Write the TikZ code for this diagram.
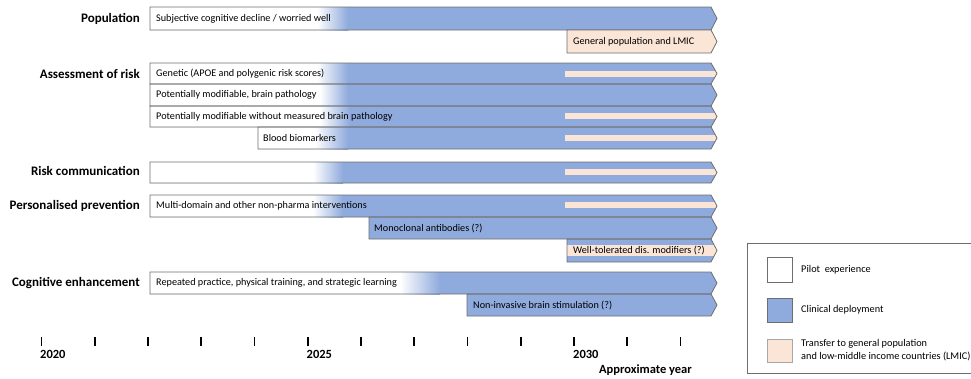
\documentclass[tikz,border=0pt]{standalone}
\usepackage{fontspec}
\setmainfont{Carlito}
\definecolor{cblue}{HTML}{8FAADC}
\definecolor{cpeach}{HTML}{FBE5D6}
\definecolor{cedge}{HTML}{6E6E6E}
\newcommand\barpath[3]{(#1,#2) -- (711,#2) -- (717,{(#2+#3)/2}) -- (711,#3) -- (#1,#3) -- cycle}
\newcommand\gradbar[5]{%
  \fill[cblue] \barpath{#1}{#2}{#3};
  \fill[white] (#1,#2) rectangle (#4,#3);
  \shade[left color=white,right color=cblue] (#4,#2) rectangle (#5,#3);
}
\newcommand\stripe[5]{%
  \begin{scope}
    \clip \barpath{#1}{#2}{#3};
    \fill[cpeach] (565,#4) rectangle (720,#5);
  \end{scope}
}
\newcommand\edge[3]{\draw[cedge,line width=0.8pt] \barpath{#1}{#2}{#3};}
\tikzset{
  bartext/.style={anchor=west,font=\fontsize{10.2}{11}\selectfont,inner sep=0pt},
  rowlabel/.style={anchor=east,font=\fontsize{13}{15}\selectfont\bfseries,inner sep=0pt},
  yearlabel/.style={anchor=west,font=\fontsize{12.5}{14}\selectfont\bfseries,inner sep=0pt},
  legtext/.style={anchor=west,font=\fontsize{10.3}{12.5}\selectfont,inner sep=0pt,align=left},
  tick/.style={line width=1.6pt,black},
}
\begin{document}
\begin{tikzpicture}[x=1pt,y=-1pt]
\useasboundingbox (0,0) rectangle (971,378);
% row labels
\node[rowlabel] (lpop) at (140,19) {Population};
\node[rowlabel] (lrisk) at (140,74) {Assessment of risk};
\node[rowlabel] (lcomm) at (140,171) {Risk communication};
\node[rowlabel] (lprev) at (140,206) {Personalised prevention};
\node[rowlabel] (lcog) at (140,283) {Cognitive enhancement};
% Population
\gradbar{150}{7}{30}{317}{348}
\edge{150}{7}{30}
\node[bartext] (t1) at (156,18.5) {Subjective cognitive decline / worried well};
\fill[cpeach] \barpath{567}{30}{53};
\edge{567}{30}{53}
\node[bartext] (t2) at (573,41.5) {General population and LMIC};
% Assessment of risk
\gradbar{150}{63}{84}{317}{348}
\stripe{150}{63}{84}{71}{77}
\gradbar{150}{84}{106}{320}{348}
\gradbar{150}{106}{127}{320}{350}
\stripe{150}{106}{127}{113}{119}
\gradbar{258}{127}{149}{315}{348}
\stripe{258}{127}{149}{135}{141}
\edge{150}{63}{84}
\edge{150}{84}{106}
\edge{150}{106}{127}
\edge{258}{127}{149}
\node[bartext] (t3) at (156,73.5) {Genetic (APOE and polygenic risk scores)};
\node[bartext] (t4) at (156,95) {Potentially modifiable, brain pathology};
\node[bartext] (t5) at (156,116.5) {Potentially modifiable without measured brain pathology};
\node[bartext] (t6) at (263,138) {Blood biomarkers};
% Risk communication
\gradbar{150}{162}{183}{313}{343}
\stripe{150}{162}{183}{169}{175}
\edge{150}{162}{183}
% Personalised prevention
\gradbar{150}{195}{217}{313}{343}
\stripe{150}{195}{217}{202}{208}
\fill[cblue] \barpath{369}{217}{239};
\fill[cblue] \barpath{567}{239}{262};
\stripe{567}{239}{262}{245}{256}
\edge{150}{195}{217}
\edge{369}{217}{239}
\edge{567}{239}{262}
\node[bartext] (t7) at (156,206) {Multi-domain and other non-pharma interventions};
\node[bartext] (t8) at (374,228) {Monoclonal antibodies (?)};
\node[bartext] (t9) at (573,250.5) {Well-tolerated dis. modifiers (?)};
% Cognitive enhancement
\gradbar{150}{272}{294}{400}{440}
\fill[cblue] \barpath{467}{294}{316};
\edge{150}{272}{294}
\edge{467}{294}{316}
\node[bartext] (t10) at (156,283) {Repeated practice, physical training, and strategic learning};
\node[bartext] (t11) at (473,305) {Non-invasive brain stimulation (?)};
% axis
\foreach \i in {0,...,12} {
  \coordinate (tk\i) at ({41.5+53.25*\i},337);
  \draw[tick] (tk\i) -- ++(0,9);
}
\node[yearlabel] (y2020) at (40,354) {2020};
\node[yearlabel] (y2025) at (306.5,354) {2025};
\node[yearlabel] (y2030) at (573,354) {2030};
\node[anchor=east,font=\fontsize{12.5}{14}\selectfont\bfseries,inner sep=0pt] (axt) at (692,370) {Approximate year};
% legend
\draw[cedge,line width=0.8pt] (747,243) -- (975,243) (975,373) -- (747,373) -- (747,243);
\draw[cedge,line width=0.8pt,fill=white] (767,257) rectangle (792,282);
\draw[cedge,line width=0.8pt,fill=cblue] (767,298) rectangle (792,322);
\draw[cedge!60,line width=0.8pt,fill=cpeach] (767,339) rectangle (792,362);
\node[legtext] (lg1) at (801,270) {Pilot\ \ experience};
\node[legtext] (lg2) at (801,310) {Clinical deployment};
\node[legtext] (lg3) at (801,350) {Transfer to general population\\and low-middle income countries (LMIC)};
\end{tikzpicture}
\end{document}
